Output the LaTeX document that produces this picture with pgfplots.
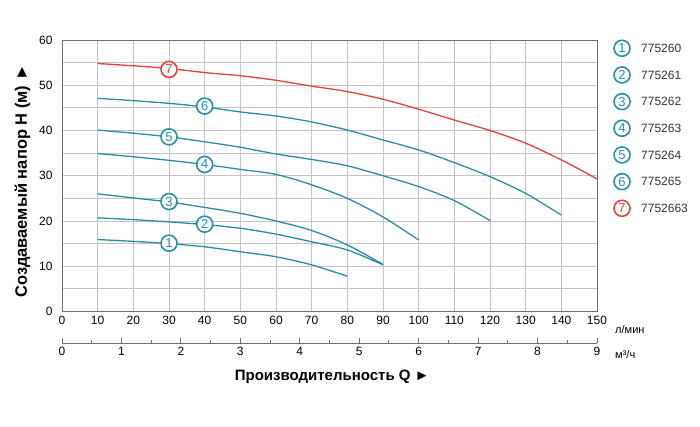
\documentclass[border=0pt]{standalone}
\usepackage{pgfplots}
\pgfplotsset{compat=1.18}
\usepackage{fontspec}
\setmainfont{Liberation Sans}
\definecolor{cteal}{RGB}{40,142,162}
\definecolor{cred}{RGB}{232,62,62}
\definecolor{cgrid}{RGB}{195,195,195}
\definecolor{cframe}{RGB}{110,110,110}
\begin{document}
\begin{tikzpicture}[x=1pt,y=1pt]
\path (0,0) rectangle (700,427);
\begin{axis}[
 at={(62pt,115.5pt)}, anchor=south west, scale only axis, width=535pt, height=271.5pt,
 xmin=0,xmax=150,ymin=0,ymax=60,
 xtick={0,10,...,150}, ytick={0,10,...,60}, minor ytick={5,15,...,55},
 grid=both,
 major grid style={draw=cgrid, line width=0.9pt},
 minor grid style={draw=cgrid, line width=0.9pt},
 axis line style={draw=cframe, line width=0.9pt},
 major tick length=0pt, minor tick length=0pt,
 tick label style={font=\fontsize{12}{14}\selectfont},
 /pgf/number format/assume math mode=true,
 xticklabel style={yshift=-1pt}, yticklabel style={xshift=-6pt},
 ylabel={Создаваемый напор H (м) ►},
 ylabel style={at={(axis description cs:-0.074,0.48)}, anchor=center, font=\bfseries\fontsize{16.5}{18}\selectfont},
 clip=false,
]
\addplot[cteal, line width=1.3pt, smooth] coordinates {(10,15.9)(20,15.5)(30,15.0)(40,14.3)(50,13.2)(60,12.1)(70,10.3)(80,7.8)};
\addplot[cteal, line width=1.3pt, smooth] coordinates {(10,20.7)(20,20.3)(30,19.8)(40,19.2)(50,18.4)(60,17.1)(70,15.4)(80,13.6)(90,10.3)};
\addplot[cteal, line width=1.3pt, smooth] coordinates {(10,26.0)(20,25.1)(30,24.2)(40,23.0)(50,21.7)(60,20.0)(70,17.9)(80,14.7)(90,10.4)};
\addplot[cteal, line width=1.3pt, smooth] coordinates {(10,34.9)(20,34.2)(30,33.4)(40,32.5)(50,31.4)(60,30.3)(70,28.0)(80,25.0)(90,20.9)(100,15.8)};
\addplot[cteal, line width=1.3pt, smooth] coordinates {(10,40.1)(20,39.4)(30,38.6)(40,37.5)(50,36.3)(60,34.8)(70,33.6)(80,32.2)(90,30.0)(100,27.6)(110,24.5)(120,20.1)};
\addplot[cteal, line width=1.3pt, smooth] coordinates {(10,47.1)(20,46.6)(30,46.0)(40,45.2)(50,44.1)(60,43.2)(70,41.9)(80,40.1)(90,37.9)(100,35.7)(110,32.9)(120,29.8)(130,26.1)(140,21.3)};
\addplot[cred, line width=1.3pt, smooth] coordinates {(10,54.8)(20,54.3)(30,53.7)(40,52.8)(50,52.1)(60,51.1)(70,49.8)(80,48.6)(90,46.9)(100,44.7)(110,42.3)(120,40.0)(130,37.2)(140,33.5)(150,29.3)};
\addplot[draw=none, mark=none, nodes near coords, point meta=explicit symbolic,
  nodes near coords style={circle, draw=cteal, fill=white, line width=1.6pt, text=cteal, inner sep=0pt, minimum size=16pt, anchor=center, font=\fontsize{13}{13}\selectfont}]
  coordinates {(30,15.1)[1] (40,19.3)[2] (30,24.3)[3] (40,32.5)[4] (30,38.6)[5] (40,45.4)[6]};
\addplot[draw=none, mark=none, nodes near coords, point meta=explicit symbolic,
  nodes near coords style={circle, draw=cred, fill=white, line width=1.6pt, text=cred, inner sep=0pt, minimum size=16pt, anchor=center, font=\fontsize{13}{13}\selectfont}]
  coordinates {(30,53.5)[7]};
\end{axis}
\begin{axis}[
 at={(62pt,84pt)}, anchor=south west, scale only axis, width=535pt, height=1pt,
 xmin=0,xmax=9,ymin=0,ymax=1,
 axis x line*=bottom, axis y line=none,
 xtick={0,...,9}, minor xtick={0.5,1.5,...,8.5},
 major tick length=5pt, minor tick length=3pt, tick align=inside,
 axis line style={draw=cframe, line width=0.9pt},
 tick style={draw=cframe, line width=0.9pt},
 tick label style={font=\fontsize{12}{14}\selectfont},
 /pgf/number format/assume math mode=true,
 xticklabel style={yshift=-1pt},
 xlabel={Производительность Q ►},
 xlabel style={at={(axis description cs:0.505,0)}, anchor=center, yshift=-34pt, font=\bfseries\fontsize{15}{17}\selectfont},
]
\addplot[draw=none] coordinates {(0,0)};
\end{axis}
\node[anchor=west, inner sep=0pt, font=\fontsize{11}{12}\selectfont] at (615,97) {л/мин};
\node[anchor=west, inner sep=0pt, font=\fontsize{11}{12}\selectfont] at (615,72) {м³/ч};
\foreach \i/\n/\c [count=\k] in {1/775260/cteal, 2/775261/cteal, 3/775262/cteal, 4/775263/cteal, 5/775264/cteal, 6/775265/cteal, 7/7752663/cred} {
  \node[circle, draw=\c, line width=1.6pt, inner sep=0pt, minimum size=16pt, text=\c, font=\fontsize{13}{13}\selectfont] at (622, {427-48.3-(\k-1)*26.67}) {\i};
  \node[anchor=west, inner sep=0pt, font=\fontsize{12}{14}\selectfont, text=black!80] at (641, {427-48.3-(\k-1)*26.67}) {\n};
}
\end{tikzpicture}
\end{document}
